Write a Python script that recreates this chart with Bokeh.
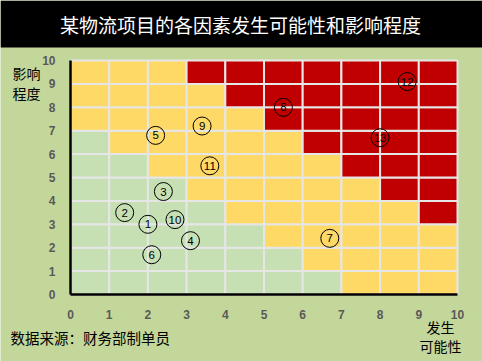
from bokeh.plotting import figure
from bokeh.models import ColumnDataSource, Label, FixedTicker, BoxAnnotation, Range1d
from bokeh.core.properties import value
from bokeh.embed import file_html
from bokeh.resources import INLINE

# ---------------- data ----------------
title_text = "某物流项目的各因素发生可能性和影响程度"
y_axis_text = "影响\n程度"
x_axis_text = "发生\n可能性"
source_note = "数据来源：财务部制单员"

# risk matrix: for each impact row (0..9) the likelihood column where
# yellow starts (green before) and where red starts
impact_rows = [0, 1, 2, 3, 4, 5, 6, 7, 8, 9]
green_end = [7, 6, 5, 4, 3, 2, 1, 0, 0, 0]
red_start = [10, 10, 10, 9, 8, 7, 6, 5, 4, 3]
likelihood_cols = [0, 1, 2, 3, 4, 5, 6, 7, 8, 9]

factor_ids = ["1", "2", "3", "4", "5", "6", "7", "8", "9", "10", "11", "12", "13"]
likelihood = [2.0, 1.4, 2.4, 3.1, 2.2, 2.1, 6.7, 5.5, 3.4, 2.7, 3.6, 8.7, 8.0]
impact = [3.0, 3.5, 4.4, 2.3, 6.8, 1.7, 2.4, 8.0, 7.2, 3.2, 5.5, 9.1, 6.7]

tick_values = [0, 1, 2, 3, 4, 5, 6, 7, 8, 9, 10]

# ---------------- styles / layout ----------------
BG = "#C4D79B"
GREEN = "#C6E0B4"
YELLOW = "#FFD966"
RED = "#C00000"
CJK = "Noto Sans CJK SC"

W, H, M = 482, 361, 0          # canvas size, page offset
FX0, FX1 = 70 - M, 457 - M     # canvas x of likelihood 0 and 10
FY10, FY0 = 60 - M, 294 - M    # canvas y of impact 10 and 0
SX = (FX1 - FX0) / 10.0
SY = (FY0 - FY10) / 10.0


def dx(page_x):
    return (page_x - M - FX0) / SX


def dy(page_y):
    return (FY0 - (page_y - M)) / SY


p = figure(width=W, height=H, min_border=0,
           x_range=Range1d(dx(M), dx(M + W)), y_range=Range1d(dy(M + H), dy(M)),
           output_backend="svg", toolbar_location=None)
p.background_fill_color = BG
p.border_fill_color = BG
p.outline_line_color = None
p.grid.visible = False

# title bar
p.add_layout(BoxAnnotation(bottom=dy(47), fill_color="black", fill_alpha=1.0,
                           line_color=None, level="underlay"))
p.add_layout(Label(x=dx(240), y=dy(24), text=title_text, text_color="white",
                   text_font=CJK, text_font_size="19px",
                   text_align="center", text_baseline="middle"))

# matrix cells
left, right, bottom, top, colors = [], [], [], [], []
for j, ge, rs in zip(impact_rows, green_end, red_start):
    for i in likelihood_cols:
        left.append(i)
        right.append(i + 1)
        bottom.append(j)
        top.append(j + 1)
        colors.append(GREEN if i < ge else (RED if i >= rs else YELLOW))
cells = ColumnDataSource(dict(left=left, right=right, bottom=bottom, top=top, color=colors))
p.quad(left="left", right="right", bottom="bottom", top="top", source=cells,
       fill_color="color", line_color="#E6E6E6", line_width=2)

# factors
pts = ColumnDataSource(dict(x=likelihood, y=impact, label=factor_ids))
p.scatter(x="x", y="y", source=pts, marker="circle", size=18,
          fill_color=None, line_color="black", line_width=1)
p.text(x="x", y="y", text="label", source=pts, text_align="center",
       text_baseline="middle", text_font=value("Liberation Sans"),
       text_font_size="11.5px", text_color="black")

# axes drawn at the matrix edges
for ax in (p.xaxis[0], p.yaxis[0]):
    ax.fixed_location = 0
    ax.bounds = (0, 10)
    ax.ticker = FixedTicker(ticks=tick_values)
    ax.axis_line_color = "black"
    ax.axis_line_width = 2.5
    ax.major_tick_line_color = None
    ax.minor_tick_line_color = None
    ax.major_label_text_font = "Liberation Sans Narrow, Liberation Sans"
    ax.major_label_text_font_style = "bold"
    ax.major_label_text_font_size = "12px"
    ax.major_label_text_color = "#595959"
    ax.major_label_standoff = 9

p.add_layout(Label(x=dx(12), y=dy(62), text=y_axis_text, text_font=CJK,
                   text_font_size="14px", text_color="black",
                   text_align="left", text_baseline="top", text_line_height=1.0))
p.add_layout(Label(x=dx(440), y=dy(316), text=x_axis_text, text_font=CJK,
                   text_font_size="14px", text_color="black",
                   text_align="center", text_baseline="top", text_line_height=0.95))
p.add_layout(Label(x=dx(10), y=dy(337), text=source_note, text_font=CJK,
                   text_font_size="14.5px", text_color="black",
                   text_align="left", text_baseline="middle"))

open("out.html", "w").write(file_html(p, INLINE))
